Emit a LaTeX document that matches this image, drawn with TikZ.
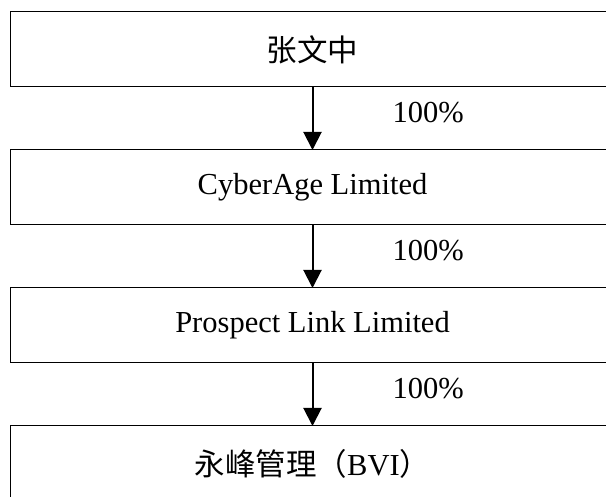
\documentclass[tikz,border=0pt]{standalone}
\usepackage{fontspec}
\setmainfont{Liberation Serif}
\newfontfamily\cjk{Noto Sans CJK SC}
\usetikzlibrary{arrows.meta,positioning}
\tikzset{
  flow/.style={-{Triangle[length=18pt,width=18pt]},line width=2pt,black},
  orgbox/.style={draw=black,line width=1pt,minimum width=605pt,minimum height=75pt,
    inner sep=0pt,outer sep=0pt,align=center,font=\fontsize{30.5}{36}\selectfont},
  pcttext/.style={font=\fontsize{30.5}{36}\selectfont,inner sep=0pt,right,xshift=79pt,yshift=6pt}
}

\begin{document}
\begin{tikzpicture}[x=1pt,y=-1pt,node distance=63pt]
\useasboundingbox (0,0) rectangle (606,497);
\clip (0,0) rectangle (606,497);
\node[orgbox] (zhang) at (312.5,49.5) {\cjk 张文中};
\node[orgbox,below=of zhang] (cyber) {CyberAge Limited};
\node[orgbox,below=of cyber] (prospect) {Prospect Link Limited};
\node[orgbox,below=of prospect] (yongfeng) {{\cjk 永峰管理（}BVI{\cjk ）}};
\draw[flow] (zhang) -- node[pcttext] {100\%} (cyber);
\draw[flow] (cyber) -- node[pcttext] {100\%} (prospect);
\draw[flow] (prospect) -- node[pcttext] {100\%} (yongfeng);
\end{tikzpicture}
\end{document}
